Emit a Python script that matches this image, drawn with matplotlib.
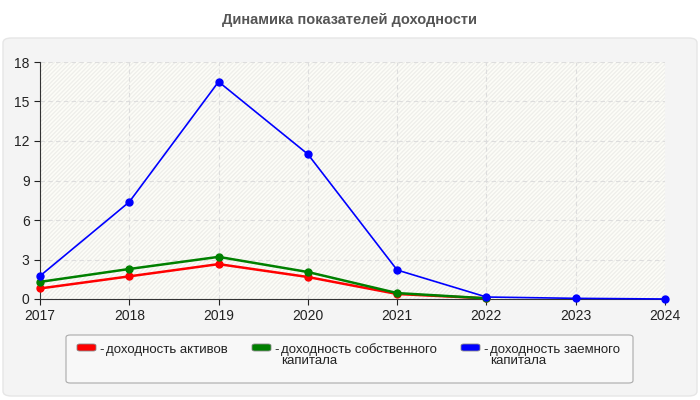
import matplotlib
matplotlib.use("Agg")
import matplotlib.pyplot as plt
from matplotlib.patches import FancyBboxPatch
import numpy as np

plt.rcParams['font.family'] = ['Liberation Sans', 'DejaVu Sans']

years = [2017, 2018, 2019, 2020, 2021, 2022, 2023, 2024]
roa = [0.8, 1.72, 2.65, 1.67, 0.38, 0.05, None, None]
roe = [1.3, 2.28, 3.2, 2.05, 0.45, 0.05, None, None]
rod = [1.75, 7.37, 16.5, 11.0, 2.2, 0.15, 0.05, 0.0]
labels = ["доходность активов", "доходность собственного\nкапитала", "доходность заемного\nкапитала"]
colors = ["#ff0000", "#008000", "#0000ff"]
yticks = [0, 3, 6, 9, 12, 15, 18]

W, H = 700, 400
fig = plt.figure(figsize=(7, 4), dpi=100)
fig.patch.set_facecolor("white")

def fx(x): return x / W
def fy(y): return 1 - y / H

# outer panel
panel = FancyBboxPatch((fx(3), fy(396)), fx(694), (396 - 38) / H,
                       boxstyle="round,pad=0,rounding_size=0.012",
                       transform=fig.transFigure, facecolor="#f4f4f4",
                       edgecolor="#e6e6e6", linewidth=1, zorder=-5)
fig.patches.append(panel)

fig.text(0.5, fy(20), "Динамика показателей доходности", ha="center", va="center",
         fontsize=10.5, fontweight="bold", color="#555555")

ax = fig.add_axes([fx(40), fy(299), fx(665 - 40), (299 - 62) / H], zorder=2)
ax.set_facecolor("#fdfdf8")
ax.add_patch(plt.Rectangle((0, 0), 1, 1, transform=ax.transAxes, facecolor="none",
                           edgecolor="#efefeb", hatch="////////", linewidth=0, zorder=0))
for s in ["top", "right"]:
    ax.spines[s].set_visible(False)
for s in ["left", "bottom"]:
    ax.spines[s].set_color("#333333")
ax.grid(True, color="#dddddd", linestyle=(0, (4, 3)), linewidth=0.8)
ax.set_axisbelow(True)

def arr(v): return np.array([np.nan if x is None else x for x in v], dtype=float)

ax.plot(years, arr(roa), color=colors[0], lw=1.8, marker="o", ms=5, zorder=3, clip_on=False)
ax.plot(years, arr(roe), color=colors[1], lw=1.8, marker="o", ms=5, zorder=3, clip_on=False)
ax.plot(years, arr(rod), color=colors[2], lw=1.2, marker="o", ms=5, zorder=4, clip_on=False)

ax.set_xlim(2017, 2024)
ax.set_ylim(0, 18)
ax.set_xticks(years)
ax.set_yticks(yticks)
ax.tick_params(labelsize=10, colors="#222222", length=4)

# legend box
lb = FancyBboxPatch((fx(66), fy(383)), fx(633 - 66), (383 - 335) / H,
                    boxstyle="round,pad=0,rounding_size=0.006",
                    transform=fig.transFigure, facecolor="#f8f8f8",
                    edgecolor="#aaaaaa", linewidth=0.8, zorder=-4)
fig.patches.append(lb)
xs = [77, 252, 461]
for x, c, lab in zip(xs, colors, labels):
    p = FancyBboxPatch((fx(x), fy(351)), fx(19), 7 / H,
                       boxstyle="round,pad=0,rounding_size=0.004",
                       transform=fig.transFigure, facecolor=c, edgecolor="#888888",
                       linewidth=0.6, zorder=-3)
    fig.patches.append(p)
    fig.text(fx(x + 22), fy(353), "-", ha="left", va="baseline", fontsize=9.5,
             color="#222222")
    for i, line in enumerate(lab.split("\n")):
        fig.text(fx(x + 29), fy(353 + 11 * i), line, ha="left", va="baseline",
                 fontsize=9.5, color="#222222")

fig.savefig("out.png", dpi=100)
